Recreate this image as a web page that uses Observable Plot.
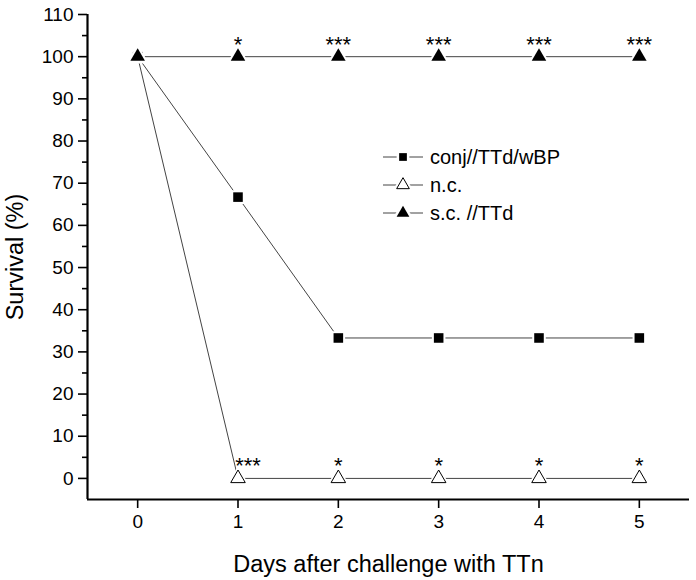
<!DOCTYPE html>
<html><head><meta charset="utf-8">
<script src="https://cdn.jsdelivr.net/npm/d3@7"></script>
<script src="https://cdn.jsdelivr.net/npm/@observablehq/plot@0.6"></script>
<style>
body{margin:0;background:#fff;font-family:Arial,"Liberation Sans",sans-serif}
#wrap{position:relative;width:696px;height:580px}
#legend{position:absolute;left:382px;top:143px;font-size:20px;color:#000}
#legend .row{display:flex;align-items:center;height:28px}
#legend svg{margin-right:6px}
</style></head><body><div id="wrap"><div id="legend"></div></div>
<script>
const days = [0, 1, 2, 3, 4, 5];
const conj = [100, 66.7, 33.3, 33.3, 33.3, 33.3];
const nc = [100, 0, 0, 0, 0, 0];
const sc = [100, 100, 100, 100, 100, 100];
const scStars = ["", "*", "***", "***", "***", "***"];
const ncStars = ["", "***", "*", "*", "*", "*"];
const seriesNames = ["conj//TTd/wBP", "n.c.", "s.c. //TTd"];
const yTicks = [0, 10, 20, 30, 40, 50, 60, 70, 80, 90, 100, 110];
const yMinor = [5, 15, 25, 35, 45, 55, 65, 75, 85, 95, 105];
const xLabel = "Days after challenge with TTn";
const yLabel = "Survival (%)";

const mk = arr => days.map((d, i) => ({day: d, v: arr[i]}));
const dConj = mk(conj), dNc = mk(nc), dSc = mk(sc);
const starsSc = days.map((d, i) => ({day: d, v: sc[i], s: scStars[i]}));
const starsNc = days.map((d, i) => ({day: d, v: nc[i], s: ncStars[i]}));

const lineC = "#444";
const chart = Plot.plot({
  width: 696, height: 580,
  marginLeft: 87, marginRight: 7, marginTop: 14, marginBottom: 81,
  style: {fontFamily: "Arial, 'Liberation Sans', sans-serif", color: "#000", background: "#fff"},
  x: {domain: [-0.5, 5.5]},
  y: {domain: [-5, 110]},
  marks: [
    Plot.axisY({ticks: yMinor, tickSize: 5, tickFormat: () => "", label: null, strokeWidth: 1.6}),
    Plot.axisY({ticks: yTicks, tickSize: 9, tickFormat: () => "", strokeWidth: 1.6, label: null}),
    Plot.text(yTicks, {y: d => d, text: d => String(d), frameAnchor: "left", textAnchor: "end", dx: -14, fontSize: 19, fill: "#000"}),
    Plot.axisY({ticks: [], label: yLabel, labelAnchor: "center", labelArrow: "none", labelOffset: 81, fontSize: 23.5}),
    Plot.axisX({ticks: days, tickSize: 9, tickFormat: () => "", strokeWidth: 1.6, label: null}),
    Plot.text(days, {x: d => d, text: d => String(d), frameAnchor: "bottom", lineAnchor: "top", dy: 15, fontSize: 19, fill: "#000"}),
    Plot.axisX({ticks: [], label: xLabel, labelAnchor: "center", labelArrow: "none", labelOffset: 72, fontSize: 23.5}),
    Plot.ruleX([-0.5], {stroke: "#000", strokeWidth: 2.2}),
    Plot.ruleY([-5], {stroke: "#000", strokeWidth: 2.2}),
    Plot.line(dConj, {x: "day", y: "v", stroke: lineC, strokeWidth: 1}),
    Plot.line(dNc, {x: "day", y: "v", stroke: lineC, strokeWidth: 1}),
    Plot.line(dSc, {x: "day", y: "v", stroke: lineC, strokeWidth: 1}),
    Plot.dot(dConj, {x: "day", y: "v", symbol: "square", r: 5.4, fill: "#000", stroke: "#fff", strokeWidth: 4}),
    Plot.dot(dConj, {x: "day", y: "v", symbol: "square", r: 5.4, fill: "#000"}),
    Plot.dot(dNc.slice(1), {x: "day", y: "v", symbol: "triangle", r: 5.4, fill: "#fff", stroke: "#fff", strokeWidth: 4}),
    Plot.dot(dNc.slice(1), {x: "day", y: "v", symbol: "triangle", r: 5.4, fill: "#fff", stroke: "#000", strokeWidth: 1}),
    Plot.dot(dSc, {x: "day", y: "v", symbol: "triangle", r: 5.4, fill: "#000", stroke: "#fff", strokeWidth: 4}),
    Plot.dot(dSc, {x: "day", y: "v", symbol: "triangle", r: 5.4, fill: "#000"}),
    Plot.text(starsSc, {x: "day", y: "v", text: "s", dy: -12, fill: "#000", fontSize: 22}),
    Plot.text(starsNc.slice(2), {x: "day", y: "v", text: "s", dy: -12, fill: "#000", fontSize: 22}),
    Plot.text(starsNc.slice(1, 2), {x: "day", y: "v", text: "s", dy: -12, dx: 10, fill: "#000", fontSize: 22})
  ]
});
const wrap = document.getElementById("wrap");
wrap.insertBefore(chart, wrap.firstChild);
chart.style.position = "absolute"; chart.style.left = "0"; chart.style.top = "0";

// legend
const legend = document.getElementById("legend");
const legendSym = [
  {sym: d3.symbolSquare, size: 60, fill: "#000", stroke: "none"},
  {sym: d3.symbolTriangle, size: 70, fill: "#fff", stroke: "#000"},
  {sym: d3.symbolTriangle, size: 70, fill: "#000", stroke: "none"}
];
seriesNames.forEach((name, i) => {
  const row = document.createElement("div"); row.className = "row";
  const s = legendSym[i];
  const path = d3.symbol(s.sym, s.size)();
  row.innerHTML = `<svg width="42" height="20"><line x1="1" x2="41" y1="10" y2="10" stroke="${lineC}" stroke-width="1"/>` +
    `<path d="${path}" transform="translate(21,10)" fill="#fff" stroke="#fff" stroke-width="5"/>` +
    `<path d="${path}" transform="translate(21,10)" fill="${s.fill}" stroke="${s.stroke}"/></svg><span>${name}</span>`;
  legend.appendChild(row);
});
</script></body></html>
